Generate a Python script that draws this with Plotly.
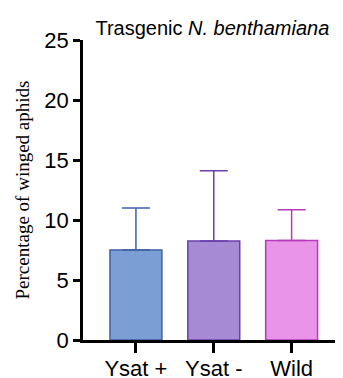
import plotly.graph_objects as go

categories = ["Ysat +", "Ysat -", "Wild"]
means = [7.5, 8.25, 8.3]
errors_up = [3.5, 5.85, 2.55]
fill_colors = ["#7b9fd4", "#a68ad4", "#e994e8"]
line_colors = ["#3d62a6", "#6b3fad", "#b43cb8"]
y_ticks = [0, 5, 10, 15, 20, 25]

fig = go.Figure()
for i, (c, m, e, fc, lc) in enumerate(zip(categories, means, errors_up, fill_colors, line_colors)):
    fig.add_trace(go.Bar(
        x=[i], y=[m], width=0.667,
        marker=dict(color=fc, line=dict(color=lc, width=1.5)),
        error_y=dict(type="data", array=[e], arrayminus=[0], symmetric=False,
                     color=lc, thickness=1.5, width=14),
        showlegend=False,
    ))

fig.update_layout(
    width=335, height=370,
    margin=dict(l=75, r=0, t=32, b=38),
    plot_bgcolor="white", paper_bgcolor="white",
    font=dict(family="Liberation Sans, Arial", color="black"),
    title=dict(text="Trasgenic <i>N. benthamiana</i>", x=0.61, xanchor="center",
               y=0.946, yanchor="middle",
               font=dict(size=20, family="Liberation Sans, Arial", color="black")),
)
fig.update_xaxes(
    range=[-0.68, 2.66], tickvals=list(range(len(categories))), ticktext=categories,
    showline=True, linecolor="black", linewidth=2.5, ticks="outside", ticklen=10,
    tickwidth=2.5, tickcolor="black", showgrid=False, zeroline=False, automargin=False,
    ticklabelstandoff=-3,
    tickfont=dict(size=22, family="Liberation Sans, Arial"),
)
fig.update_yaxes(
    range=[0, 25], tickvals=y_ticks, showline=True, linecolor="black", linewidth=2.5,
    ticks="outside", ticklen=7, tickwidth=2.5, tickcolor="black", showgrid=False,
    zeroline=False, automargin=False, tickfont=dict(size=22, family="Liberation Sans, Arial"),
    title=dict(text="Percentage of winged aphids", standoff=10,
               font=dict(size=19, family="Liberation Serif, Times New Roman")),
)
fig.write_html("out.html")
